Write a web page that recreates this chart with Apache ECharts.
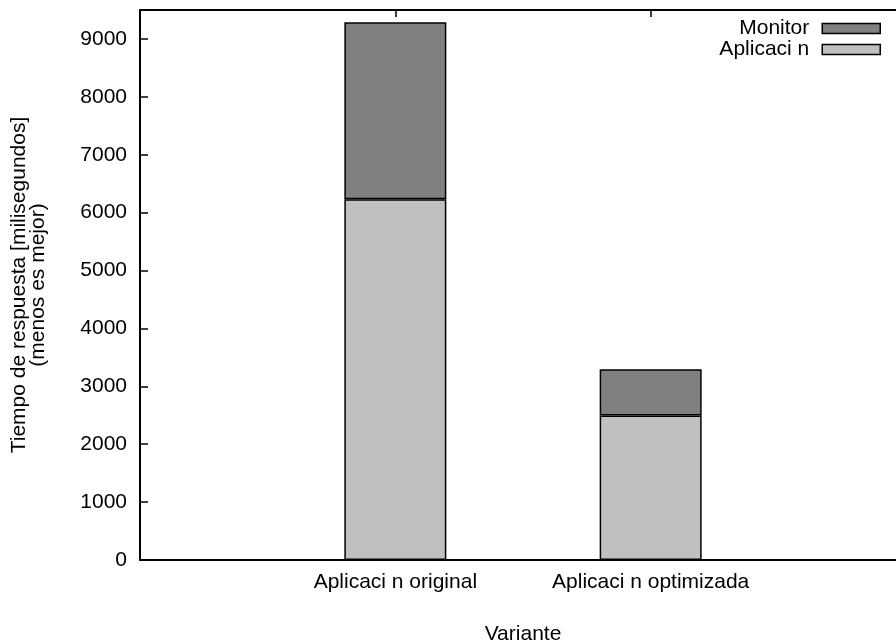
<!DOCTYPE html>
<html>
<head>
<meta charset="utf-8">
<script src="https://cdn.jsdelivr.net/npm/echarts@6/dist/echarts.min.js"></script>
<style>html,body{margin:0;padding:0;background:#fff}#c{width:896px;height:644px}</style>
</head>
<body>
<div id="c"></div>
<script>
var categories = ['Aplicaci n original', 'Aplicaci n optimizada'];
var aplicacion = [6230, 2495];
var monitor = [3060, 800];
var seriesNames = ['Aplicaci n', 'Monitor'];
var yTicks = [0, 1000, 2000, 3000, 4000, 5000, 6000, 7000, 8000, 9000];

var FONT = 'Liberation Sans, Arial, Helvetica, sans-serif';
var FS = 21;
var axisData = [' '].concat(categories).concat(['  ']);
function pad(arr) { return ['-'].concat(arr).concat(['-']); }
function isCat(i) { return i >= 1 && i <= categories.length; }

var chart = echarts.init(document.getElementById('c'), null, {renderer: 'canvas'});
chart.setOption({
  animation: false,
  backgroundColor: '#fff',
  textStyle: {fontFamily: FONT, color: '#000'},
  grid: {left: 140, top: 10, width: 766, bottom: 84, show: false, containLabel: false, outerBoundsMode: 'none'},
  legend: {
    data: [seriesNames[1], seriesNames[0]],
    orient: 'vertical',
    align: 'right',
    right: 10,
    top: 13,
    itemWidth: 58,
    itemHeight: 10,
    itemGap: 0,
    icon: 'rect',
    textStyle: {fontFamily: FONT, fontSize: FS, color: '#000', lineHeight: 20, padding: [0, 8, 0, 0]},
    itemStyle: {borderColor: '#000', borderWidth: 1.5}
  },
  xAxis: [{
    type: 'category',
    data: axisData,
    boundaryGap: false,
    name: 'Variante',
    nameLocation: 'middle',
    nameGap: 64,
    nameTextStyle: {fontFamily: FONT, fontSize: FS, color: '#000'},
    axisLine: {show: true, lineStyle: {color: '#000', width: 2}},
    axisTick: {show: false},
    axisLabel: {
      fontFamily: FONT, fontSize: FS, color: '#000', margin: 12,
      interval: function (i) { return isCat(i); }
    },
    splitLine: {show: false}
  }, {
    type: 'category',
    data: axisData,
    boundaryGap: false,
    position: 'top',
    axisLine: {show: true, lineStyle: {color: '#000', width: 2}},
    axisTick: {show: true, inside: true, length: 7, lineStyle: {color: '#000', width: 1.5},
      interval: function (i) { return isCat(i); }},
    axisLabel: {show: false},
    splitLine: {show: false}
  }],
  yAxis: {
    type: 'value',
    min: 0,
    max: 9500,
    interval: 1000,
    name: 'Tiempo de respuesta [milisegundos]\n(menos es mejor)',
    nameLocation: 'middle',
    nameRotate: 90,
    nameGap: 92,
    nameTextStyle: {fontFamily: FONT, fontSize: FS, color: '#000', lineHeight: 19, align: 'center'},
    axisLine: {show: true, onZero: false, lineStyle: {color: '#000', width: 2}},
    axisTick: {show: true, inside: true, length: 8, lineStyle: {color: '#000', width: 1.5}},
    axisLabel: {
      fontFamily: FONT, fontSize: FS, color: '#000', margin: 13,
      formatter: function (v) { return yTicks.indexOf(v) >= 0 ? String(v) : ''; }
    },
    splitLine: {show: false}
  },
  series: [{
    name: seriesNames[0],
    type: 'bar',
    stack: 'total',
    data: pad(aplicacion),
    barWidth: 102,
    itemStyle: {color: '#c0c0c0', borderColor: '#000', borderWidth: 1.5}
  }, {
    name: seriesNames[1],
    type: 'bar',
    stack: 'total',
    data: pad(monitor),
    barWidth: 102,
    itemStyle: {color: '#808080', borderColor: '#000', borderWidth: 1.5}
  }]
});
</script>
</body>
</html>
